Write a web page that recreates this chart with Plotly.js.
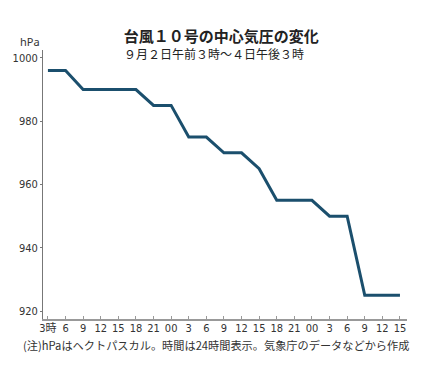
<!DOCTYPE html>
<html>
<head>
<meta charset="utf-8">
<script src="https://cdn.plot.ly/plotly-3.0.1.min.js"></script>
<style>html,body{margin:0;padding:0;background:#fff;}#chart{width:434px;height:367px;}</style>
</head>
<body>
<div id="chart"></div>
<script>
const hourLabels = ["3時","6","9","12","15","18","21","00","3","6","9","12","15","18","21","00","3","6","9","12","15"];
const pressure = [996,996,990,990,990,990,985,985,975,975,970,970,965,955,955,955,950,950,925,925,925];
const yTicks = [920,940,960,980,1000];

const xIdx = hourLabels.map((_, i) => i);
const cjk = '"Noto Sans CJK JP", "Noto Sans", sans-serif';
const narrow = '"DejaVu Sans Condensed", "Noto Sans CJK JP", sans-serif';

const trace = {
  x: xIdx,
  y: pressure,
  type: 'scatter',
  mode: 'lines',
  line: {color: '#1b4f6d', width: 3},
  hoverinfo: 'skip'
};

const layout = {
  width: 434, height: 367,
  margin: {l: 43, r: 27, t: 50, b: 48},
  paper_bgcolor: '#fff', plot_bgcolor: '#fff',
  showlegend: false,
  title: {text: '<b>台風１０号の中心気圧の変化</b>', font: {family: cjk, size: 15, color: '#222'},
          x: 0.49, xref: 'paper', xanchor: 'center', y: 1 - 37/367, yref: 'container', yanchor: 'middle'},
  xaxis: {
    range: [-0.28, 20.4],
    tickmode: 'array', tickvals: xIdx, ticktext: hourLabels,
    showgrid: false, zeroline: false,
    showline: true, linecolor: '#999', linewidth: 2,
    ticks: 'inside', ticklen: 3, tickcolor: '#999',
    ticklabelstandoff: -2,
    tickfont: {family: narrow, size: 11, color: '#333'},
    fixedrange: true
  },
  yaxis: {
    range: [917.5, 1002.5],
    tickmode: 'array', tickvals: yTicks,
    showgrid: false, zeroline: false,
    showline: true, linecolor: '#777', linewidth: 1,
    ticks: 'outside', ticklen: 2, tickcolor: '#777',
    tickfont: {family: narrow, size: 11, color: '#333'},
    fixedrange: true
  },
  annotations: [
    {text: '９月２日午前３時～４日午後３時', xref: 'paper', yref: 'paper',
     x: (214-43)/364, y: 1 + (50-53)/269, xanchor: 'center', yanchor: 'middle', showarrow: false,
     font: {family: cjk, size: 12, color: '#222'}},
    {text: 'hPa', xref: 'paper', yref: 'paper',
     x: (18-43)/364, y: 1 + (50-42)/269, xanchor: 'left', yanchor: 'middle', showarrow: false,
     font: {family: '"Noto Sans", sans-serif', size: 11, color: '#333'}},
    {text: '(注)hPaはヘクトパスカル。時間は24時間表示。気象庁のデータなどから作成', xref: 'paper', yref: 'paper',
     x: (216-43)/364, y: -(345-319)/269, xanchor: 'center', yanchor: 'middle', showarrow: false,
     font: {family: cjk, size: 11.2, color: '#333'}}
  ]
};

Plotly.newPlot('chart', [trace], layout, {displayModeBar: false, staticPlot: true});
</script>
</body>
</html>
